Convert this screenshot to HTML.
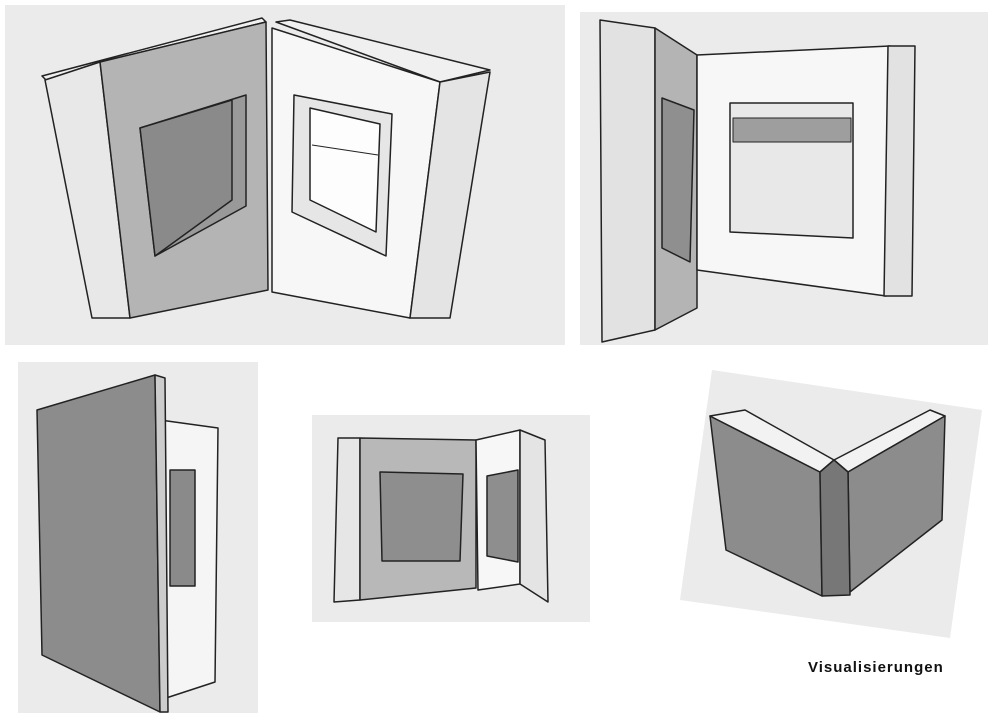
<!DOCTYPE html>
<html><head><meta charset="utf-8"><style>
html,body{margin:0;padding:0;background:#fff;width:993px;height:723px;overflow:hidden}
svg{display:block}
text{font-family:"Liberation Sans",sans-serif}
</style></head><body>
<svg width="993" height="723" viewBox="0 0 993 723" xmlns="http://www.w3.org/2000/svg" stroke-linejoin="round">
<rect width="993" height="723" fill="#fff"/>
<rect x="5" y="5" width="560" height="340" fill="#ebebeb"/>
<rect x="580" y="12" width="408" height="333" fill="#ebebeb"/>
<rect x="18" y="362" width="240" height="351" fill="#ebebeb"/>
<rect x="312" y="415" width="278" height="207" fill="#ebebeb"/>
<polygon points="712,370 982,410 950,638 680,600" fill="#ebebeb"/>

<g stroke="#222" stroke-width="1.5">
<!-- Panel 1 -->
<polygon points="42,76 262,18 266,22 100,62 46,80" fill="#f0f0f0"/>
<polygon points="276,22 290,20 490,70 440,82" fill="#f0f0f0"/>
<polygon points="45,80 100,62 130,318 92,318" fill="#e8e8e8"/>
<polygon points="100,62 266,22 268,290 130,318" fill="#b4b4b4"/>
<polygon points="140,128 246,95 246,206 155,256" fill="#999"/>
<polygon points="140,128 232,100 232,200 155,256" fill="#8a8a8a"/>
<polygon points="272,28 440,82 410,318 272,292" fill="#f7f7f7"/>
<polygon points="294,95 392,114 386,256 292,212" fill="#e6e6e6"/>
<polygon points="310,108 380,124 376,232 310,200" fill="#fdfdfd"/>
<line x1="312" y1="145" x2="378" y2="155" stroke-width="1"/>
<polygon points="440,82 490,72 450,318 410,318" fill="#e4e4e4"/>
<!-- Panel 2 -->
<polygon points="600,20 655,28 655,330 602,342" fill="#e2e2e2"/>
<polygon points="655,28 697,55 697,308 655,330" fill="#b4b4b4"/>
<polygon points="662,98 694,110 690,262 662,248" fill="#8f8f8f"/>
<polygon points="697,55 890,46 886,296 697,270" fill="#f7f7f7"/>
<polygon points="730,103 853,103 853,238 730,232" fill="#e8e8e8"/>
<polygon points="733,118 851,118 851,142 733,142" fill="#9e9e9e" stroke-width="1"/>
<polygon points="888,46 915,46 912,296 884,296" fill="#e2e2e2"/>
<!-- Panel 3 -->
<polygon points="160,420 218,428 215,682 160,700" fill="#f5f5f5"/>
<polygon points="170,470 195,470 195,586 170,586" fill="#8a8a8a"/>
<polygon points="37,410 155,375 160,712 42,655" fill="#8c8c8c"/>
<polygon points="155,375 165,378 168,712 160,712" fill="#ccc"/>
<!-- Panel 4 -->
<polygon points="338,438 360,438 360,600 334,602" fill="#e6e6e6"/>
<polygon points="360,438 476,440 476,588 360,600" fill="#b8b8b8"/>
<polygon points="380,472 463,474 460,561 382,561" fill="#8e8e8e"/>
<polygon points="476,440 520,430 520,584 478,590" fill="#f7f7f7"/>
<polygon points="487,476 518,470 518,562 487,556" fill="#8e8e8e"/>
<polygon points="520,430 545,440 548,602 520,584" fill="#e4e4e4"/>
<!-- Panel 5 -->
<polygon points="710,416 820,472 822,596 726,550" fill="#8c8c8c"/>
<polygon points="710,416 745,410 834,460 820,472" fill="#f2f2f2"/>
<polygon points="834,460 930,410 945,416 848,472" fill="#f2f2f2"/>
<polygon points="848,472 945,416 942,520 850,592" fill="#8c8c8c"/>
<polygon points="820,472 834,460 848,472 850,595 822,596" fill="#777"/>
</g>
<text x="808" y="672" font-size="15" font-weight="bold" letter-spacing="1" fill="#111">Visualisierungen</text>
</svg>
</body></html>
